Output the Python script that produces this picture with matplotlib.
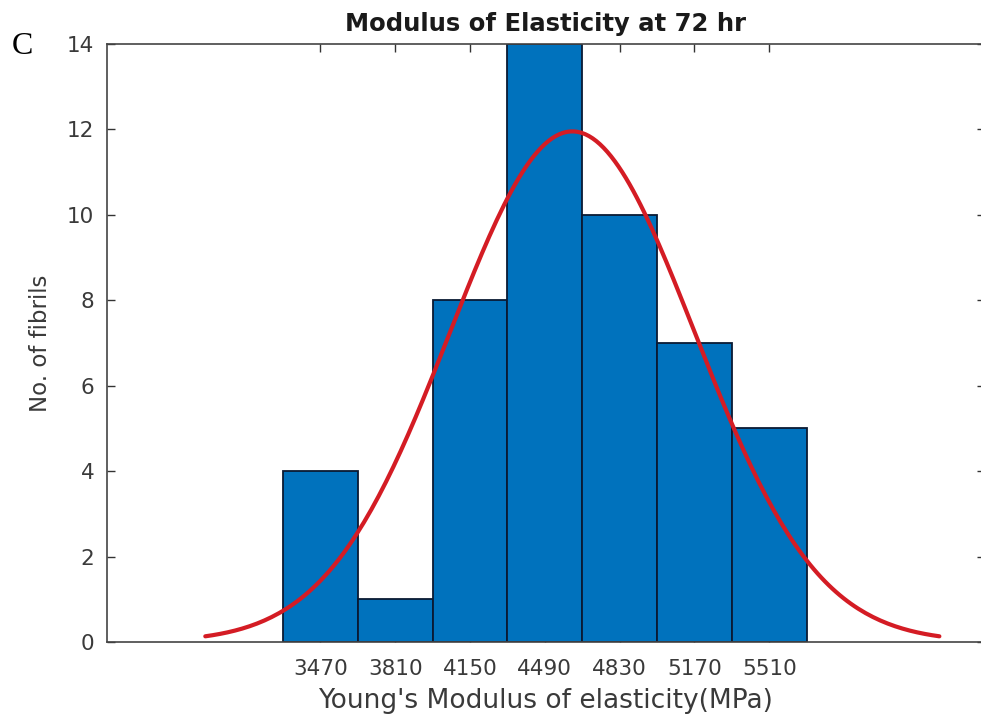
import numpy as np
import matplotlib
matplotlib.use('Agg')
from matplotlib import pyplot as plt

# histogram data
bin_centres = [3470, 3810, 4150, 4490, 4830, 5170, 5510]
counts = [4, 1, 8, 14, 10, 7, 5]
bin_width = 340
# fitted normal curve (histfit style)
fit_mu = 4615
fit_sigma = 556

plt.rcParams['font.family'] = ['DejaVu Sans']

fig = plt.figure(figsize=(9.81, 7.21), dpi=100)
ax = fig.add_axes([0.109, 0.1096, 0.895, 0.8294])

ax.bar(bin_centres, counts, width=bin_width, color='#0072BD', edgecolor='#0a1a33', linewidth=1.3, zorder=2)

n = sum(counts)
xs = np.linspace(fit_mu - 3*fit_sigma, fit_mu + 3*fit_sigma, 200)
ys = n*bin_width/(fit_sigma*np.sqrt(2*np.pi))*np.exp(-0.5*((xs-fit_mu)/fit_sigma)**2)
ax.plot(xs, ys, color='#d41c24', lw=3, zorder=3, solid_capstyle='round')

ax.set_xlim(2500, 6490)
ax.set_ylim(0, 14)
ax.set_xticks(bin_centres)
ax.set_yticks(range(0, 15, 2))
ax.tick_params(direction='in', length=6, width=1, colors='#333333', labelcolor='#3a3a3a', labelsize=15.5,
               top=True, right=True)
ax.tick_params(axis='x', pad=12)
ax.tick_params(axis='y', pad=9)
for s in ax.spines.values():
    s.set_color('#444444')
    s.set_linewidth(1.2)

ax.set_xlabel("Young's Modulus of elasticity(MPa)", fontsize=19, color='#3a3a3a', labelpad=7)
ax.set_ylabel('No. of fibrils', fontsize=16.5, color='#3a3a3a', labelpad=11)
ax.set_title('Modulus of Elasticity at 72 hr', fontsize=17.5, fontweight='bold', color='#1a1a1a', pad=9)
fig.text(0.012, 0.956, 'C', family='Liberation Serif', fontsize=23, va='top', ha='left')

plt.savefig('out.png', dpi=100)
